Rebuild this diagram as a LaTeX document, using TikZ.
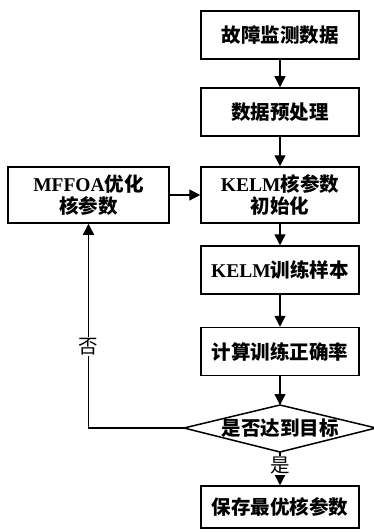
\documentclass[tikz,border=0pt]{standalone}
\usepackage{fontspec}
\setmainfont{Noto Sans CJK SC}
\newfontfamily\lat{Liberation Serif}
\usetikzlibrary{arrows.meta}
\newcommand{\latw}[1]{{\lat\bfseries #1}}
\begin{document}
\begin{tikzpicture}[x=1pt,y=-1pt,
  box/.style={draw,line width=1.5pt,minimum width=158pt,minimum height=48pt,inner sep=0pt,align=center,
    font=\fontsize{19.5}{22}\selectfont\bfseries},
  arr/.style={line width=1.3pt,-{Triangle[length=11pt,width=11pt]}},
  lbl/.style={fill=white,inner sep=1pt,font=\fontsize{19.5}{22}\selectfont}]
\useasboundingbox (0,0) rectangle (373,532);
\node[box] (b1) at (280,35) {故障监测数据};
\node[box] (b2) at (280,112) {数据预处理};
\node[box,minimum height=56pt] (b3) at (280,195) {\latw{KELM}核参数\\初始化};
\node[box,minimum width=161pt,minimum height=56pt] (m) at (88.5,195) {\latw{MFFOA}优化\\核参数};
\node[box] (b4) at (280,270) {\latw{KELM}训练样本};
\node[box] (b5) at (280,351.5) {计算训练正确率};
\node[font=\fontsize{19.5}{22}\selectfont\bfseries,inner sep=0pt] (d) at (280,428) {是否达到目标};
\coordinate (dt) at (280,405);
\coordinate (db) at (280,452);
\coordinate (dl) at (184,428);
\coordinate (dr) at (376,428);
\draw[line width=1.5pt,line join=miter] (dt) -- (dr) -- (db) -- (dl) -- cycle;
\node[box,minimum height=42pt] (b6) at (280,507) {保存最优核参数};
\coordinate (fc) at (88.5,428);
\draw[arr] (b1) -- (b2);
\draw[arr] (b2) -- (b3);
\draw[arr] (m) -- (b3);
\draw[arr] (b3) -- (b4);
\draw[arr] (b4) -- (b5);
\draw[arr] (b5) -- (dt);
\draw[arr] (db) -- node[lbl,pos=0.4]{是} (b6);
\draw[arr] (dl) -- (fc) -- node[lbl,pos=0.4]{否} (m);
\end{tikzpicture}
\end{document}
